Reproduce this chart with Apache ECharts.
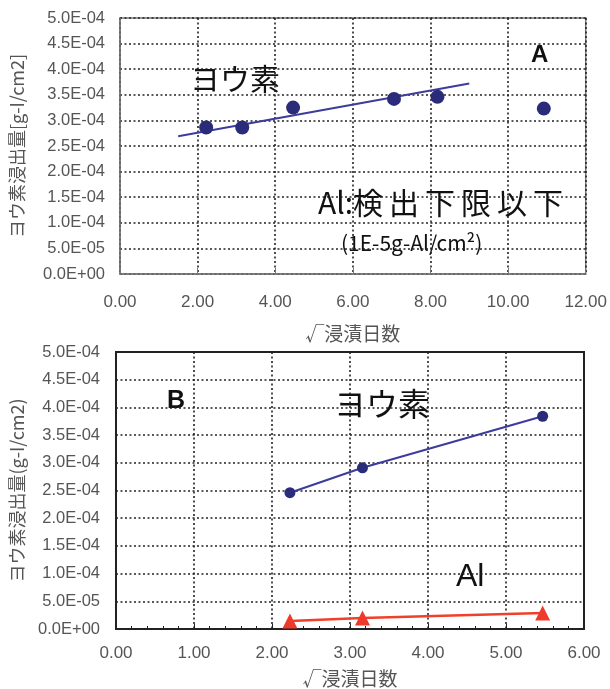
<!DOCTYPE html>
<html><head><meta charset="utf-8">
<script src="https://cdn.jsdelivr.net/npm/echarts@6/dist/echarts.min.js"></script>
<style>html,body{margin:0;padding:0;background:#fff}#c{width:610px;height:689px}</style>
</head><body><div id="c"></div>
<script>
// ---- data ----
const yTickLabels = ['0.0E+00','5.0E-05','1.0E-04','1.5E-04','2.0E-04','2.5E-04','3.0E-04','3.5E-04','4.0E-04','4.5E-04','5.0E-04'];
const xTickLabelsA = ['0.00','2.00','4.00','6.00','8.00','10.00','12.00'];
const xTickLabelsB = ['0.00','1.00','2.00','3.00','4.00','5.00','6.00'];
// Panel A: iodine (points) + trend line
const iodineAx = [2.22, 3.15, 4.46, 7.06, 8.18, 10.92];
const iodineAy = [2.86e-4, 2.86e-4, 3.25e-4, 3.42e-4, 3.46e-4, 3.23e-4];
const trendAx = [1.5, 9.0];
const trendAy = [2.69e-4, 3.72e-4];
// Panel B: iodine and Al
const iodineBx = [2.23, 3.16, 5.47];
const iodineBy = [2.46e-4, 2.91e-4, 3.84e-4];
const alBx = [2.23, 3.16, 5.47];
const alBy = [1.45e-5, 2.0e-5, 2.9e-5];

const zip = (xs, ys) => xs.map((x, i) => [x, ys[i]]);
const yFmt = v => yTickLabels[Math.round(v / 5e-5)] || '';
const labelFont = 'Liberation Sans, Arial, sans-serif';
const jpFont = '"Noto Sans CJK JP", sans-serif';

const splitDotted = {show: true, lineStyle: {color: '#222', width: 1.6, type: [2, 2.5]}};

const chart = echarts.init(document.getElementById('c'), null, {renderer: 'canvas'});
chart.setOption({
  animation: false,
  grid: [
    {left: 113, right: 24, top: 18, height: 256, show: true, borderColor: '#777', borderWidth: 1.5, backgroundColor: '#fff'},
    {left: 109, right: 26, top: 352, height: 277, show: true, borderColor: '#222', borderWidth: 2, backgroundColor: '#fff'}
  ],
  xAxis: [
    {gridIndex: 0, type: 'value', min: 0, max: 12, interval: 2,
     axisLine: {show: true, lineStyle: {color: '#777', width: 1.5}},
     axisTick: {show: true, inside: true, length: 6, lineStyle: {color: '#777'}},
     axisLabel: {color: '#555', fontSize: 17, fontFamily: labelFont, margin: 20,
       formatter: v => xTickLabelsA[Math.round(v / 2)]},
     splitLine: splitDotted,
     name: '√浸漬日数', nameLocation: 'middle', nameGap: 50,
     nameTextStyle: {color: '#555', fontSize: 19, fontFamily: jpFont}},
    {gridIndex: 1, type: 'value', min: 0, max: 6, interval: 1,
     axisLine: {show: true, lineStyle: {color: '#222', width: 2}},
     axisTick: {show: true, inside: true, length: 5, lineStyle: {color: '#222'}},
     minorTick: {show: true, splitNumber: 5, length: 3, lineStyle: {color: '#222'}},
     axisLabel: {color: '#555', fontSize: 17, fontFamily: labelFont, margin: 16,
       formatter: v => xTickLabelsB[Math.round(v)]},
     splitLine: splitDotted,
     name: '√浸漬日数', nameLocation: 'middle', nameGap: 40,
     nameTextStyle: {color: '#555', fontSize: 19, fontFamily: jpFont}}
  ],
  yAxis: [
    {gridIndex: 0, type: 'value', min: 0, max: 5e-4, interval: 5e-5,
     axisLine: {show: true, lineStyle: {color: '#777', width: 1.5}},
     axisTick: {show: false},
     axisLabel: {color: '#555', fontSize: 16.5, fontFamily: labelFont, margin: 15, formatter: yFmt},
     splitLine: splitDotted,
     name: 'ヨウ素浸出量[g-I/cm2]', nameLocation: 'middle', nameRotate: 90, nameGap: 94,
     nameTextStyle: {color: '#555', fontSize: 18, fontFamily: jpFont}},
    {gridIndex: 1, type: 'value', min: 0, max: 5e-4, interval: 5e-5,
     axisLine: {show: true, lineStyle: {color: '#222', width: 2}},
     axisTick: {show: false},
     axisLabel: {color: '#555', fontSize: 16.5, fontFamily: labelFont, margin: 16, formatter: yFmt},
     splitLine: splitDotted,
     name: 'ヨウ素浸出量(g-I/cm2)', nameLocation: 'middle', nameRotate: 90, nameGap: 90,
     nameTextStyle: {color: '#555', fontSize: 18, fontFamily: jpFont}}
  ],
  series: [
    {type: 'line', xAxisIndex: 0, yAxisIndex: 0, data: zip(trendAx, trendAy), showSymbol: false,
     lineStyle: {color: '#3c3c9c', width: 2}, z: 3},
    {type: 'scatter', xAxisIndex: 0, yAxisIndex: 0, data: zip(iodineAx, iodineAy), symbol: 'circle', symbolSize: 14,
     itemStyle: {color: '#2a2c7a', opacity: 1}, z: 4},
    {type: 'line', xAxisIndex: 1, yAxisIndex: 1, data: zip(iodineBx, iodineBy), symbol: 'circle', symbolSize: 11,
     showAllSymbol: true, lineStyle: {color: '#3c3c9c', width: 2}, itemStyle: {color: '#2a2c7a'}, z: 4},
    {type: 'line', xAxisIndex: 1, yAxisIndex: 1, data: zip(alBx, alBy), symbol: 'triangle', symbolSize: 15,
     showAllSymbol: true, lineStyle: {color: '#f0402a', width: 2.5}, itemStyle: {color: '#ee3a2c'}, z: 4}
  ],
  graphic: [
    {type: 'text', left: 190, top: 64, style: {text: 'ヨウ素', font: '30px "Noto Sans CJK JP"', fill: '#111'}},
    {type: 'text', left: 531, top: 43, style: {text: 'A', font: 'bold 24px "Liberation Sans", Arial', fill: '#111'}},
    {type: 'text', left: 318, top: 188, style: {text: 'Al:検\u2009出\u2009下\u2009限\u2009以\u2009下', font: '30px "Noto Sans CJK JP"', fill: '#111'}},
    {type: 'text', left: 341, top: 233, style: {text: '(1E-5g-Al/cm²)', font: '21px "Noto Sans CJK JP"', fill: '#111'}},
    {type: 'text', left: 167, top: 389, style: {text: 'B', font: 'bold 25px "Liberation Sans", Arial', fill: '#111'}},
    {type: 'text', left: 334, top: 388, style: {text: 'ヨウ素', font: '32px "Noto Sans CJK JP"', fill: '#111'}},
    {type: 'text', left: 456, top: 561, style: {text: 'Al', font: '32px "Liberation Sans", Arial', fill: '#111'}}
  ]
});
</script>
</body></html>
